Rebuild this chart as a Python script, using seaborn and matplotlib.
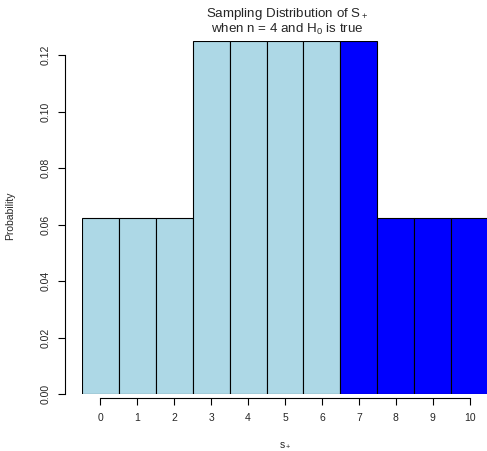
import matplotlib
matplotlib.use("Agg")
import matplotlib.pyplot as plt
import seaborn as sns
import pandas as pd

s_values = [0, 1, 2, 3, 4, 5, 6, 7, 8, 9, 10]
probabilities = [1/16, 1/16, 1/16, 2/16, 2/16, 2/16, 2/16, 2/16, 1/16, 1/16, 1/16]
rejection = ["no", "no", "no", "no", "no", "no", "no", "yes", "yes", "yes", "yes"]
y_ticks = [0.00, 0.02, 0.04, 0.06, 0.08, 0.10, 0.12]

sns.set_theme(style="white")
plt.rcParams["font.family"] = ["Liberation Sans", "DejaVu Sans"]
plt.rcParams["mathtext.fontset"] = "custom"
plt.rcParams["mathtext.rm"] = "Liberation Sans"
plt.rcParams["mathtext.it"] = "Liberation Sans"

df = pd.DataFrame({"s": [str(v) for v in s_values], "p": probabilities, "rej": rejection})

W, H = 487, 451
PT = 72 / 100  # points per pixel
fig = plt.figure(figsize=(W / 100, H / 100), dpi=100)
left, right, top, bottom = 82, 488, 41, 394
ax = fig.add_axes([left / W, 1 - bottom / H, (right - left) / W, (bottom - top) / H])

sns.barplot(data=df, x="s", y="p", hue="rej", palette={"no": "#ADD8E6", "yes": "#0000FF"},
            saturation=1, dodge=False, width=1.0, edgecolor="black", linewidth=0.8,
            legend=False, ax=ax)

ax.set_xlim(-0.5, 10.5)
ax.set_ylim(0, 0.125)
for sp in ["top", "right"]:
    ax.spines[sp].set_visible(False)
ax.spines["left"].set_position(("outward", 17 * PT))
ax.spines["left"].set_bounds(0, 0.12)
ax.spines["bottom"].set_position(("outward", 4 * PT))
ax.spines["bottom"].set_bounds(0, 10)
for sp in ["left", "bottom"]:
    ax.spines[sp].set_color("black")
    ax.spines[sp].set_linewidth(0.8)

ax.set_yticks(y_ticks)
ax.set_yticklabels([f"{t:.2f}" for t in y_ticks], rotation=90, va="center", fontsize=7.5)
ax.set_xticks(range(len(s_values)))
ax.set_xticklabels([str(v) for v in s_values], fontsize=7.5)
ax.tick_params(axis="both", which="both", direction="out", length=7 * PT, width=0.8,
               color="black", bottom=True, left=True)
ax.tick_params(axis="y", pad=5.5)
ax.tick_params(axis="x", pad=5.5)
ax.set_xlabel("")
ax.set_ylabel("")

def fy(py):
    return 1 - py / H

fig.text(285 / W, fy(447), "s$_+$", fontsize=7.5, ha="center", va="baseline")
fig.text(10 / W, fy(216), "Probability", fontsize=7.5, ha="center", va="center", rotation=90)
fig.text(287 / W, fy(6), "Sampling Distribution of S$_+$\nwhen n = 4 and H$_0$ is true",
         fontsize=9.6, ha="center", va="top", multialignment="center", linespacing=0.95)

fig.savefig("out.png", dpi=100)
